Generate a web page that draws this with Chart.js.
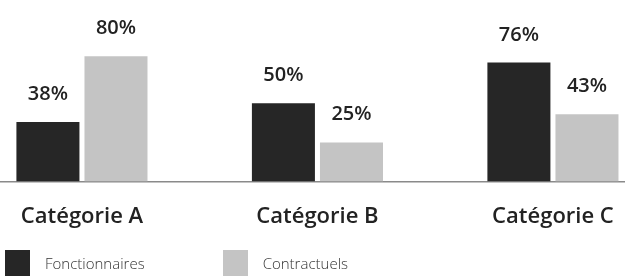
<!DOCTYPE html>
<html>
<head>
<meta charset="utf-8">
<script src="https://cdn.jsdelivr.net/npm/chart.js@4"></script>
<style>
  body { margin: 0; background: #fff; }
  #wrap { position: relative; width: 625px; height: 279px; }
  #graph { position: absolute; left: 0; top: 0; }
  #legende { position: absolute; left: 5px; top: 250px; display: flex; }
  .item { display: flex; align-items: center; font: 300 15px "Open Sans", sans-serif; color: #333; }
  .item span.box { display: inline-block; width: 25px; height: 26px; margin-right: 15px; }
  .item + .item { margin-left: 78px; }
</style>
</head>
<body>
<div id="wrap">
  <canvas id="graph" width="625" height="267"></canvas>
  <div id="legende"></div>
</div>
<script>
const categories = ["Catégorie A", "Catégorie B", "Catégorie C"];
const fonctionnaires = [38, 50, 76];
const contractuels = [80, 25, 43];
const noms = ["Fonctionnaires", "Contractuels"];
const couleurs = ["#262626", "#c4c4c4"];

// pourcentages au-dessus des barres
const etiquettes = {
  id: "etiquettes",
  afterDatasetsDraw(chart) {
    const ctx = chart.ctx;
    ctx.save();
    ctx.font = "600 20px 'Open Sans', sans-serif";
    ctx.fillStyle = "#222";
    ctx.textAlign = "center";
    ctx.textBaseline = "alphabetic";
    chart.data.datasets.forEach((ds, i) => {
      chart.getDatasetMeta(i).data.forEach((barre, j) => {
        ctx.fillText(ds.data[j].y + "%", barre.x, barre.y - 22);
      });
    });
    ctx.restore();
  }
};

function points(valeurs) {
  return valeurs.map((v, i) => ({ x: i, y: v }));
}

const ctx = document.getElementById("graph").getContext("2d");
const graphique = new Chart(ctx, {
  type: "bar",
  data: {
    datasets: [
      { label: noms[0], data: points(fonctionnaires), backgroundColor: couleurs[0] },
      { label: noms[1], data: points(contractuels), backgroundColor: couleurs[1] },
    ],
  },
  options: {
    responsive: false,
    animation: false,
    categoryPercentage: 0.578,
    barPercentage: 0.926,
    layout: { padding: { top: 25, left: 0, right: 0, bottom: 15 } },
    plugins: {
      legend: { display: false },
      tooltip: { enabled: false },
    },
    scales: {
      x: {
        type: "linear",
        offset: false,
        min: -0.348,
        max: 2.306,
        afterBuildTicks: (axe) => {
          axe.ticks = categories.map((c, i) => ({ value: i }));
        },
        afterFit: (axe) => {
          // l'axe occupe toute la largeur
          axe.paddingLeft = 0;
          axe.paddingRight = 0;
        },
        grid: { display: false, drawTicks: false, offset: false },
        border: { display: true, color: "#8a8a8a", width: 1.5 },
        ticks: {
          autoSkip: false,
          maxRotation: 0,
          padding: 22,
          color: "#222",
          font: { family: "'Open Sans', sans-serif", size: 22, weight: "600" },
          callback: (v) => categories[v],
        },
      },
      y: {
        display: false,
        min: 0,
        max: 100,
      },
    },
  },
  plugins: [etiquettes],
});

// légende en HTML
const legende = document.getElementById("legende");
graphique.data.datasets.forEach((ds) => {
  const item = document.createElement("div");
  item.className = "item";
  const box = document.createElement("span");
  box.className = "box";
  box.style.background = ds.backgroundColor;
  item.appendChild(box);
  item.appendChild(document.createTextNode(ds.label));
  legende.appendChild(item);
});
</script>
</body>
</html>
